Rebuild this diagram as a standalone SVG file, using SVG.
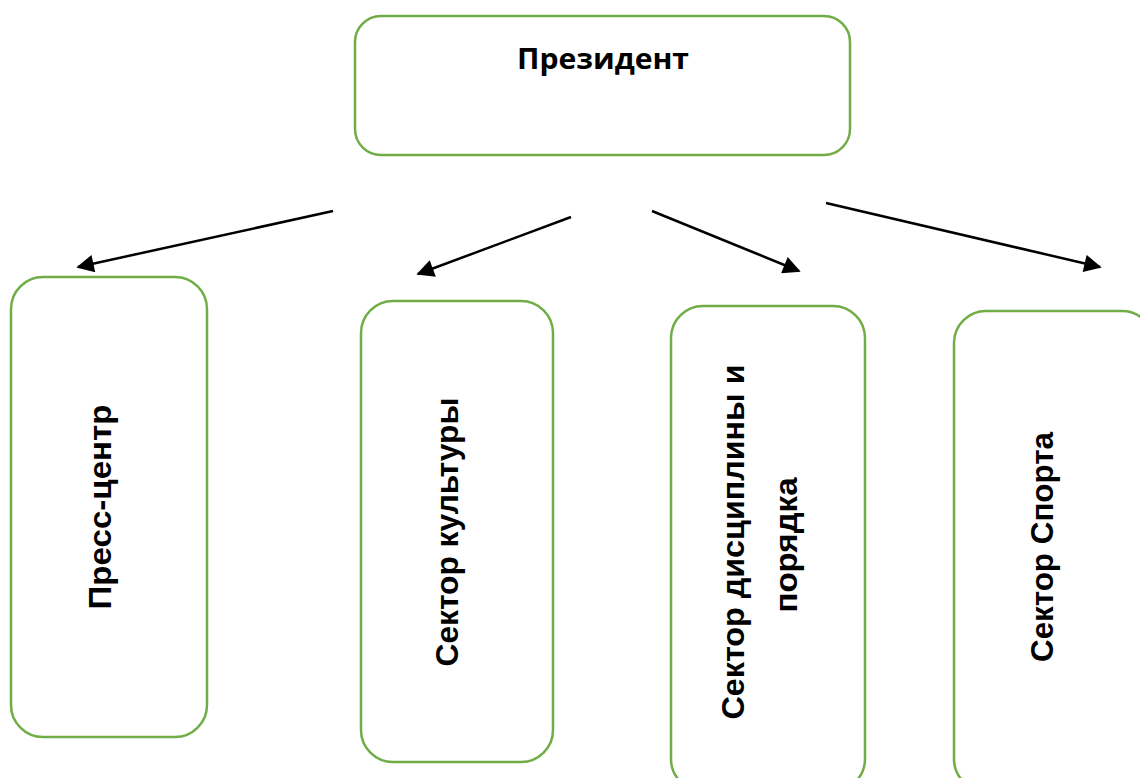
<svg xmlns="http://www.w3.org/2000/svg" width="1140" height="778" viewBox="0 0 1140 778">
  <style>
    .box { fill: #ffffff; stroke: #70AD47; stroke-width: 2.5; }
    .lbl { font-family: "Liberation Sans", Arial, sans-serif; font-weight: bold; font-size: 32px; fill: #000000; text-anchor: middle; }
    .ttl { font-family: "Open Sans", "Liberation Sans", sans-serif; font-weight: bold; font-size: 28px; fill: #000000; text-anchor: middle; }
    .conn { stroke: #000000; stroke-width: 2.5; fill: none; marker-end: url(#arrow); }
  </style>
  <defs>
    <marker id="arrow" viewBox="0 0 10 10" refX="9" refY="5" markerWidth="8" markerHeight="7" markerUnits="strokeWidth" orient="auto">
      <path d="M0,0 L10,5 L0,10 Z" fill="#000000"/>
    </marker>
  </defs>
  <rect width="1140" height="778" fill="#ffffff"/>

  <g id="president">
    <rect class="box" x="355" y="16" width="495" height="139" rx="26" ry="26"/>
    <text class="ttl" x="603" y="69" textLength="172" lengthAdjust="spacingAndGlyphs">Президент</text>
  </g>

  <g id="press-center">
    <rect class="box" x="11" y="277" width="196" height="460" rx="32" ry="32"/>
    <text class="lbl" transform="translate(111,507) rotate(-90)" x="0" y="0" textLength="205" lengthAdjust="spacingAndGlyphs">Пресс-центр</text>
  </g>

  <g id="culture">
    <rect class="box" x="361" y="301" width="192" height="461" rx="32" ry="32"/>
    <text class="lbl" transform="translate(458,532) rotate(-90)" x="0" y="0" textLength="269" lengthAdjust="spacingAndGlyphs">Сектор культуры</text>
  </g>

  <g id="discipline">
    <rect class="box" x="671" y="306" width="194" height="485" rx="32" ry="32"/>
    <text class="lbl" transform="translate(744,542) rotate(-90)" x="0" y="0" textLength="355" lengthAdjust="spacingAndGlyphs">Сектор дисциплины и</text>
    <text class="lbl" transform="translate(797,545) rotate(-90)" x="0" y="0" textLength="135" lengthAdjust="spacingAndGlyphs">порядка</text>
  </g>

  <g id="sport">
    <rect class="box" x="954" y="311" width="200" height="480" rx="32" ry="32"/>
    <text class="lbl" transform="translate(1053,547) rotate(-90)" x="0" y="0" textLength="230" lengthAdjust="spacingAndGlyphs">Сектор Спорта</text>
  </g>

  <g id="connectors">
    <line class="conn" x1="333" y1="211" x2="78" y2="267"/>
    <line class="conn" x1="571" y1="217" x2="418" y2="274"/>
    <line class="conn" x1="652" y1="211" x2="799" y2="271"/>
    <line class="conn" x1="826" y1="203" x2="1100" y2="267"/>
  </g>
</svg>
